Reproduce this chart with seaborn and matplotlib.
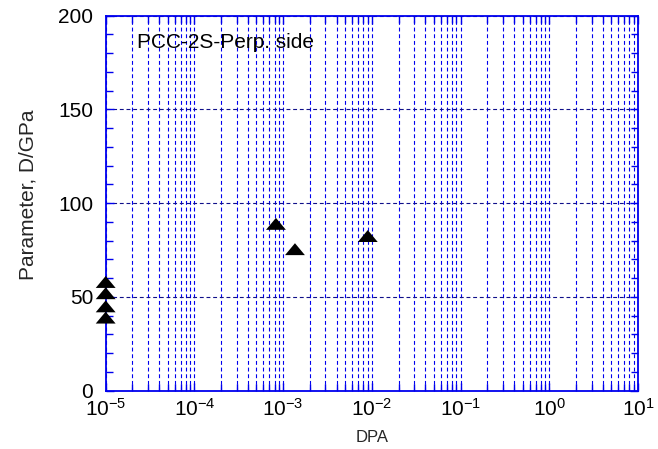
import matplotlib
matplotlib.use('Agg')
import matplotlib.pyplot as plt
import seaborn as sns
from matplotlib.path import Path
from matplotlib.markers import MarkerStyle
from matplotlib.ticker import LogLocator, MultipleLocator, NullFormatter

# values
dpa = [1e-5, 1e-5, 1e-5, 1e-5, 8.3e-4, 1.36e-3, 9.0e-3]
param = [58, 52, 45, 39, 89, 75.5, 82.5]
x_range = [1e-5, 1e1]
y_range = [0, 200]
y_major = 50
y_minor = 10
label_text = 'PCC-2S-Perp. side'

blue = '#0000ee'

sns.set_style('ticks')
plt.rcParams['font.family'] = ['Liberation Sans', 'DejaVu Sans']
plt.rcParams['mathtext.default'] = 'regular'

fig = plt.figure(figsize=(6.58, 4.49), dpi=100)
ax = fig.add_axes([0.1606, 0.1298, 0.8090, 0.8352])

# flattened up-triangle marker
tri = MarkerStyle(Path([(0, 0.6), (-1, -0.6), (1, -0.6), (0, 0.6)],
                       [Path.MOVETO, Path.LINETO, Path.LINETO, Path.CLOSEPOLY]))

sns.scatterplot(x=dpa, y=param, marker=tri, s=205, color='black',
                edgecolor='none', clip_on=False, zorder=5, ax=ax)

ax.set_xscale('log')
ax.set_xlim(*x_range)
ax.set_ylim(*y_range)
ax.xaxis.set_major_locator(LogLocator(base=10, numticks=20))
ax.xaxis.set_minor_locator(LogLocator(base=10, subs=range(2, 10), numticks=100))
ax.xaxis.set_minor_formatter(NullFormatter())
ax.yaxis.set_major_locator(MultipleLocator(y_major))
ax.yaxis.set_minor_locator(MultipleLocator(y_minor))

# grid
dash = (0, (3.5, 2.5))
ax.grid(True, which='both', axis='x', color=blue, lw=0.8, linestyle=dash)
ax.grid(True, which='major', axis='y', color='#10108a', lw=0.8, linestyle=dash)
ax.set_axisbelow(True)

for sp in ax.spines.values():
    sp.set_color(blue)
    sp.set_linewidth(1.3)
    sp.set_visible(True)

ax.tick_params(which='both', direction='in', color=blue, top=True, right=True,
               labelsize=15, labelcolor='black')
ax.tick_params(which='major', length=6, width=1)
ax.tick_params(which='minor', length=5, width=1)
ax.tick_params(axis='y', pad=9)
ax.tick_params(axis='x', pad=5)

ax.set_xlabel('DPA', fontsize=12)
ax.set_ylabel('Parameter, D/GPa', fontsize=15)
ax.xaxis.set_label_coords(0.5, -0.105)
ax.yaxis.set_label_coords(-0.128, 0.523)

ax.text(0.0588, 0.9147, label_text, transform=ax.transAxes, fontsize=15,
        ha='left', va='baseline', color='black')

fig.savefig('out.png', dpi=100)
